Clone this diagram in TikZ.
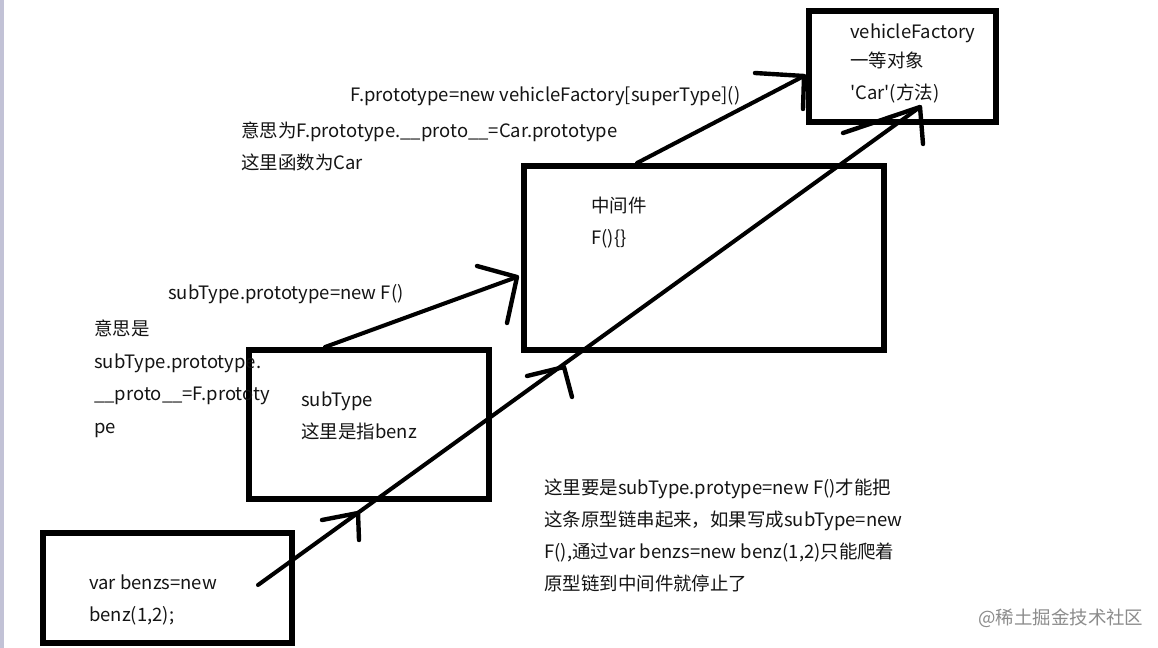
\documentclass[tikz,border=0pt]{standalone}
\usepackage{fontspec}
\setmainfont{Noto Sans CJK SC}[Ligatures=TeXOff]
\begin{document}
\begin{tikzpicture}[x=0.02cm,y=-0.02cm,
  txt/.style={anchor=base west,inner sep=0pt,font=\fontsize{10.5}{12}\selectfont,text=black!92},
  boxline/.style={line width=3pt},
  conn/.style={line width=2.3pt,line cap=round},
  head/.style={line width=2.5pt,line cap=round,line join=round}]
\useasboundingbox (0,0) rectangle (1158,648);
\fill[white] (0,0) rectangle (1158,648);
\fill[blue!20!gray!40] (0,0) rectangle (4,648);
% boxes
\draw[boxline] (809,11) rectangle (996,122);
\node[inner sep=0pt,minimum width=187*0.02cm,minimum height=111*0.02cm] (vf) at (902.5,66.5) {};
\draw[boxline] (524,166) rectangle (884,350);
\node[inner sep=0pt,minimum width=360*0.02cm,minimum height=184*0.02cm] (mid) at (704,258) {};
\draw[boxline] (249,350) rectangle (489,499);
\node[inner sep=0pt,minimum width=240*0.02cm,minimum height=149*0.02cm] (sub) at (369,424.5) {};
\draw[boxline] (43,533) rectangle (292,643);
\node[inner sep=0pt,minimum width=249*0.02cm,minimum height=110*0.02cm] (var) at (167.5,588) {};
% connector end points
\coordinate (s1) at (258,585);
\coordinate (t1) at (920,107);
\coordinate (h1) at (358,513);
\coordinate (h2) at (564,367);
\coordinate (s2) at (325,347);
\coordinate (t2) at (517,277);
\coordinate (s3) at (637,163);
\coordinate (t3) at (804,76);
% connectors
\draw[conn] (s1) -- (t1);
\draw[conn] (s2) -- (t2);
\draw[conn] (s3) -- (t3);
% hand drawn arrow heads
\draw[head] (h1) ++(-36,7) -- (h1) -- ++(1,27);
\draw[head] (h2) ++(-37,9) -- (h2) -- ++(8,30);
\draw[head] (t1) ++(-77,26) -- (t1) -- ++(3,37);
\draw[head] (t2) ++(-40,-11) -- (t2) -- ++(-10,46);
\draw[head] (t3) ++(-49,-3) -- (t3) -- ++(-1,33);
% texts
\node[txt] (vf1) at (850,39) {vehicleFactory};
\node[txt] (vf2) at (850,68) {一等对象};
\node[txt] (vf3) at (850,100) {'Car'(方法)};
\node[txt] (l1) at (350,102) {F.prototype=new vehicleFactory[superType]()};
\node[txt] (l2) at (241,138) {意思为F.prototype.\_\_proto\_\_=Car.prototype};
\node[txt] (l3) at (241,170) {这里函数为Car};
\node[txt] (m1) at (591,213) {中间件};
\node[txt] (m2) at (591,245) {F()\{\}};
\node[txt] (s0) at (168,299) {subType.prototype=new F()};
\node[txt] (a1) at (94,335) {意思是};
\node[txt] (a2) at (94,368) {subType.prototype.};
\node[txt] (a3) at (94,400) {\_\_proto\_\_=F.prototy};
\node[txt] (a4) at (94,433) {pe};
\node[txt] (b1) at (301,406) {subType};
\node[txt] (b2) at (301,438) {这里是指benz};
\node[txt] (c1) at (544,494) {这里要是subType.protype=new F()才能把};
\node[txt] (c2) at (544,526) {这条原型链串起来，如果写成subType=new};
\node[txt] (c3) at (544,558) {F(),通过var benzs=new benz(1,2)只能爬着};
\node[txt] (c4) at (544,590) {原型链到中间件就停止了};
\node[txt] (v1) at (89,589) {var benzs=new};
\node[txt] (v2) at (89,621) {benz(1,2);};
\node[txt,text=black!45] (wm) at (978,624) {@稀土掘金技术社区};
\end{tikzpicture}
\end{document}
